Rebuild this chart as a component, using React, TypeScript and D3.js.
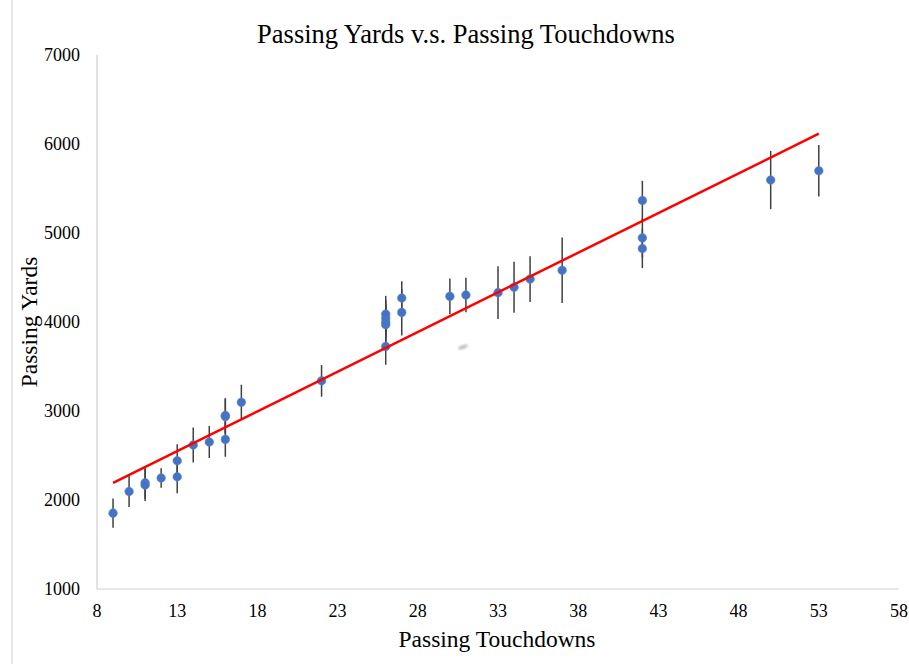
import React from "react";
import * as d3 from "d3";

const touchdowns = [9, 10, 11, 11, 12, 13, 13, 14, 15, 16, 16, 16, 17, 22, 26, 26, 26, 26, 26, 27, 27, 30, 31, 33, 34, 35, 37, 42, 42, 42, 50, 53];
const yards = [1852, 2096, 2194, 2168, 2247, 2441, 2261, 2618, 2652, 2937, 2950, 2681, 3098, 3339, 3725, 3970, 3999, 4044, 4089, 4269, 4108, 4288, 4303, 4330, 4390, 4483, 4581, 5366, 4945, 4825, 5595, 5699];
const errors = [165, 175, 180, 180, 110, 185, 185, 197, 180, 195, 195, 195, 197, 178, 205, 205, 205, 205, 205, 190, 260, 200, 193, 296, 286, 257, 368, 220, 220, 220, 327, 290];
const xTicks = [8, 13, 18, 23, 28, 33, 38, 43, 48, 53, 58];
const yTicks = [1000, 2000, 3000, 4000, 5000, 6000, 7000];

const W = 909;
const H = 664;

export default function App() {
  const x = d3.scaleLinear().domain([8, 58]).range([97, 899]);
  const y = d3.scaleLinear().domain([1000, 7000]).range([589, 55]);

  const pts = touchdowns.map((t, i) => ({ t, v: yards[i], e: errors[i] }));
  const mx = d3.mean(touchdowns) as number;
  const my = d3.mean(yards) as number;
  let num = 0, den = 0;
  pts.forEach((p) => { num += (p.t - mx) * (p.v - my); den += (p.t - mx) * (p.t - mx); });
  const slope = num / den;
  const icpt = my - slope * mx;
  const tMin = d3.min(touchdowns) as number;
  const tMax = d3.max(touchdowns) as number;
  const line = d3.line<number>().x((t) => x(t)).y((t) => y(icpt + slope * t));

  const font = "'Liberation Serif', 'Times New Roman', serif";

  return (
    <svg width={W} height={H} style={{ position: "absolute", left: 0, top: 0, background: "#fff" }} fontFamily={font}>
      <defs>
        <filter id="blur"><feGaussianBlur stdDeviation="1.2" /></filter>
      </defs>
      <line x1={12} y1={0} x2={12} y2={H} stroke="#d0d0d0" strokeWidth={1} />
      <text x={466} y={43} textAnchor="middle" fontSize={26.5} fill="#000" fontFamily={font}>Passing Yards v.s. Passing Touchdowns</text>
      <line x1={97} y1={55} x2={97} y2={589} stroke="#cfcfcf" strokeWidth={1.2} />
      <line x1={97} y1={589} x2={899} y2={589} stroke="#cfcfcf" strokeWidth={1.2} />
      {yTicks.map((v) => (
        <text key={v} x={80} y={y(v)} dy="0.35em" textAnchor="end" fontSize={18} fill="#000" fontFamily={font}>{v}</text>
      ))}
      {xTicks.map((v) => (
        <text key={v} x={x(v)} y={611} dy="0.35em" textAnchor="middle" fontSize={18} fill="#000" fontFamily={font}>{v}</text>
      ))}
      <text x={497} y={647} textAnchor="middle" fontSize={23.5} fill="#000" fontFamily={font}>Passing Touchdowns</text>
      <text transform={`translate(37,${(55 + 589) / 2}) rotate(-90)`} textAnchor="middle" fontSize={23.5} fill="#000" fontFamily={font}>Passing Yards</text>
      <ellipse cx={463} cy={347} rx={5} ry={2} fill="#999" opacity={0.6} filter="url(#blur)" transform="rotate(-20 463 347)" />
      {pts.map((p, i) => (
        <line key={"e" + i} x1={x(p.t)} x2={x(p.t)} y1={y(p.v + p.e)} y2={y(p.v - p.e)} stroke="#404040" strokeWidth={1.5} />
      ))}
      {pts.map((p, i) => (
        <circle key={"c" + i} cx={x(p.t)} cy={y(p.v)} r={4.3} fill="#4472C4" stroke="#5b85cf" strokeWidth={0.6} />
      ))}
      <path d={line([tMin, tMax]) || ""} fill="none" stroke="#ff0000" strokeWidth={2.5} />
    </svg>
  );
}
